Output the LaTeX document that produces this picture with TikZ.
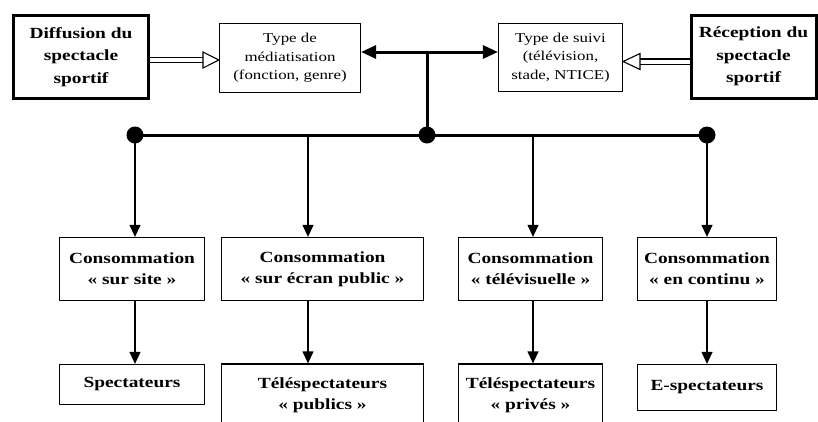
\documentclass[tikz,border=0pt]{standalone}
\usepackage{fontspec}
\setmainfont{Liberation Serif}[FakeStretch=1.25]
\usetikzlibrary{arrows.meta}
\begin{document}
\begin{tikzpicture}[x=1pt,y=-1pt,
  bigbox/.style={draw, line width=3pt, align=center, inner sep=0pt,
    font=\fontsize{15.5}{22.5}\selectfont\bfseries},
  smallbox/.style={draw, line width=1.2pt, align=center, inner sep=0pt,
    font=\fontsize{13.5}{18.5}\selectfont},
  consbox/.style={draw, line width=1.3pt, align=center, inner sep=0pt,
    font=\fontsize{15.5}{21}\selectfont\bfseries},
  thickline/.style={line width=3pt},
  bigtip/.style={-{Triangle[length=15pt,width=13pt]}},
  downarrow/.style={line width=1.3pt, -{Triangle[length=12pt,width=11pt]}},
  dbl/.style={double, double distance=4pt, line width=1.1pt},
  hollowhead/.style={line width=1.1pt, fill=white, line join=miter}
]
\useasboundingbox (0,0) rectangle (818,421);
\clip (0,0) rectangle (818,421);

% top row
\node[bigbox, minimum width=135, minimum height=83] (dif) at (81,57) {Diffusion du\\spectacle\\sportif};
\node[smallbox, minimum width=141, minimum height=69] (med) at (290,58) {Type de\\médiatisation\\(fonction, genre)};
\node[smallbox, minimum width=124, minimum height=68] (sui) at (560.5,57.5) {Type de suivi\\(télévision,\\stade, NTICE)};
\node[bigbox, minimum width=125, minimum height=83] (rec) at (753.5,56.5) {Réception du\\spectacle\\sportif};

% consumption boxes
\node[consbox, minimum width=145, minimum height=63] (c1) at (132,269) {Consommation\\«~sur site~»};
\node[consbox, minimum width=202, minimum height=63] (c2) at (322.5,269) {Consommation\\«~sur écran public~»};
\node[consbox, minimum width=144, minimum height=63] (c3) at (530.5,269) {Consommation\\«~télévisuelle~»};
\node[consbox, minimum width=139, minimum height=63] (c4) at (707,269) {Consommation\\«~en continu~»};

% audience boxes
\node[consbox, minimum width=145, minimum height=40] (p1) at (132,384.5) {Spectateurs};
\node[consbox, minimum width=202, minimum height=62] (p2) at (322.5,395) {Téléspectateurs\\«~publics~»};
\node[consbox, minimum width=144, minimum height=62] (p3) at (530.5,395) {Téléspectateurs\\«~privés~»};
\node[consbox, minimum width=139, minimum height=46] (p4) at (707,387.5) {E-spectateurs};

% junction and bus
\coordinate (j) at (427,52);
\coordinate (bL) at (135,135);
\coordinate (b2) at (308,135);
\coordinate (bC) at (427,135);
\coordinate (b3) at (533,135);
\coordinate (bR) at (707,135);

\draw[thickline, bigtip] (j) -- (med.east |- j);
\draw[thickline, bigtip] (j) -- (sui.west |- j);
\draw[thickline] (j) -- (bC);
\draw[thickline] (bL) -- (bR);
\fill (bL) circle (8.5);
\fill (bC) circle (8.5);
\fill (bR) circle (8.5);

% down arrows
\draw[downarrow] (bL) -- (bL |- c1.north);
\draw[downarrow] (b2) -- (b2 |- c2.north);
\draw[downarrow] (b3) -- (b3 |- c3.north);
\draw[downarrow] (bR) -- (bR |- c4.north);
\draw[downarrow] (bL |- c1.south) -- (bL |- p1.north);
\draw[downarrow] (b2 |- c2.south) -- (b2 |- p2.north);
\draw[downarrow] (b3 |- c3.south) -- (b3 |- p3.north);
\draw[downarrow] (bR |- c4.south) -- (bR |- p4.north);

% hollow double arrows
\coordinate (h1) at (205,60);
\draw[dbl] (dif.east |- h1) -- (h1);
\draw[hollowhead] (203,52) -- (med.west |- h1) -- (203,68) -- cycle;
\coordinate (h2) at (638,61.5);
\draw[dbl] (rec.west |- h2) -- (h2);
\draw[hollowhead] (640,53.5) -- (sui.east |- h2) -- (640,69.5) -- cycle;
\end{tikzpicture}
\end{document}
